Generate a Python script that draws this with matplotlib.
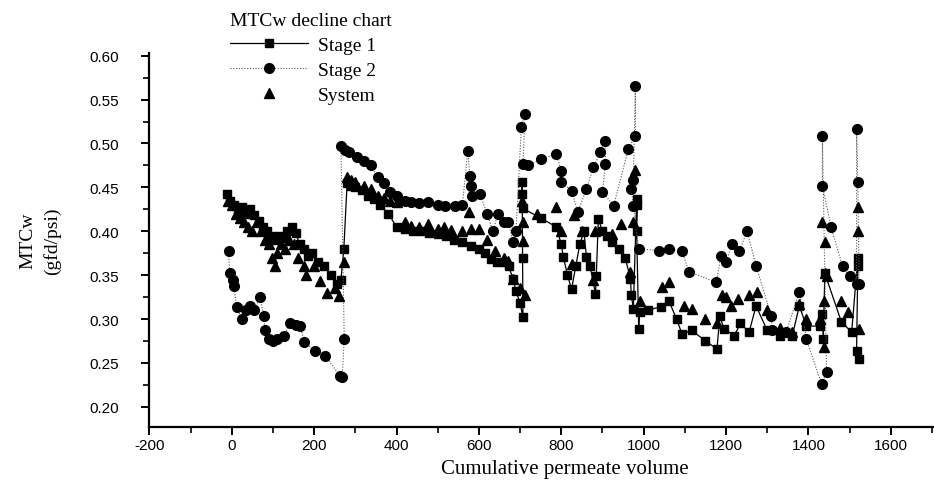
import matplotlib
matplotlib.use("Agg")
import matplotlib.pyplot as plt
from matplotlib.ticker import MultipleLocator

plt.rcParams["axes.unicode_minus"] = False

# Stage 1 (squares, solid line)
stage1_x = [-12, -5, 5, 15, 25, 35, 45, 55, 65, 75, 85, 95, 105, 115, 125, 135, 145,
            155, 165, 175, 185, 195, 210, 225, 240, 255, 265, 272,
            280, 290, 300, 315, 330, 345, 360, 380, 400, 420, 440, 460, 480, 500, 520,
            540, 560, 580, 600, 615, 630, 645, 660, 672, 683, 690, 700, 707,
            706, 705, 705, 707, 750, 788, 800, 805, 815, 825, 835, 845, 855, 861, 870,
            883, 885, 890, 900, 910, 922, 940, 955, 968, 970, 975, 983, 985, 983, 988,
            990, 1010, 1041, 1061, 1080, 1093, 1117, 1150, 1178, 1185, 1195, 1220,
            1235, 1256, 1273, 1300, 1330, 1361, 1378, 1395, 1427, 1434, 1436, 1440,
            1480, 1505, 1520, 1520, 1517, 1524]
stage1_y = [0.442, 0.435, 0.430, 0.425, 0.428, 0.420, 0.425, 0.418, 0.412, 0.405, 0.400,
            0.395, 0.390, 0.395, 0.392, 0.400, 0.405, 0.398, 0.385, 0.380, 0.372, 0.375,
            0.365, 0.360, 0.350, 0.340, 0.345, 0.380,
            0.455, 0.452, 0.450, 0.447, 0.440, 0.437, 0.430, 0.420, 0.405, 0.403, 0.400,
            0.400, 0.398, 0.397, 0.395, 0.390, 0.388, 0.383, 0.380, 0.375, 0.368, 0.365,
            0.365, 0.360, 0.346, 0.332, 0.318, 0.302,
            0.370, 0.456, 0.443, 0.426, 0.415, 0.405, 0.385, 0.371, 0.350, 0.334, 0.360,
            0.385, 0.400, 0.371, 0.360, 0.329, 0.349, 0.414, 0.400, 0.395, 0.388, 0.380,
            0.370, 0.346, 0.327, 0.312, 0.437, 0.430, 0.400, 0.289,
            0.308, 0.310, 0.314, 0.321, 0.300, 0.283, 0.287, 0.275, 0.266, 0.303, 0.289,
            0.281, 0.295, 0.285, 0.315, 0.287, 0.281, 0.281, 0.315, 0.292, 0.292, 0.306,
            0.277, 0.352, 0.297, 0.285, 0.369, 0.360, 0.264, 0.255]

# Stage 2 (circles, dotted line)
stage2_x = [-8, -5, 2, 5, 12, 24, 35, 44, 55, 68, 78, 80, 90, 100, 110, 127, 141, 155,
            166, 176, 202, 227, 263, 268, 273,
            265, 275, 285, 305, 320, 337, 354, 370, 385, 402, 420, 434, 455, 476, 500,
            517, 541, 560, 573, 578, 580, 582, 602, 620, 634, 646, 660, 671, 683, 690,
            703, 712, 707, 720, 750, 788, 800, 800, 825, 840, 861, 878, 895, 907, 907,
            900, 927, 963, 980, 980, 975, 970, 975, 988, 1037, 1061, 1093, 1110, 1176,
            1188, 1200, 1215, 1232, 1251, 1273, 1310, 1312, 1346, 1378, 1395, 1432,
            1444, 1434, 1434, 1455, 1483, 1500, 1517, 1517, 1520, 1523]
stage2_y = [0.378, 0.352, 0.345, 0.338, 0.314, 0.300, 0.310, 0.315, 0.310, 0.325, 0.304,
            0.287, 0.277, 0.275, 0.277, 0.281, 0.295, 0.293, 0.292, 0.274, 0.264, 0.258,
            0.235, 0.234, 0.277,
            0.497, 0.493, 0.490, 0.485, 0.480, 0.475, 0.462, 0.455, 0.445, 0.440, 0.435,
            0.433, 0.432, 0.433, 0.430, 0.429, 0.429, 0.430, 0.492, 0.463, 0.452, 0.440,
            0.443, 0.420, 0.400, 0.420, 0.411, 0.411, 0.388, 0.400, 0.519, 0.534, 0.477,
            0.475, 0.482, 0.488, 0.469, 0.456, 0.446, 0.422, 0.448, 0.473, 0.490, 0.503,
            0.477, 0.445, 0.429, 0.494, 0.509, 0.566, 0.458, 0.448, 0.429, 0.380, 0.378,
            0.380, 0.377, 0.354, 0.342, 0.372, 0.365, 0.386, 0.377, 0.400, 0.361, 0.303,
            0.287, 0.285, 0.331, 0.277, 0.226, 0.240, 0.509, 0.452, 0.405, 0.360, 0.349,
            0.340, 0.517, 0.456, 0.340]

# System (triangles)
system_x = [-10, 0, 10, 20, 30, 40, 50, 60, 70, 80, 90, 98, 105, 110, 120, 130, 140, 150,
            160, 175, 180, 200, 215, 230, 250, 261, 273,
            280, 290, 300, 320, 337, 355, 370, 385, 402, 420, 434, 455, 476, 500, 515,
            532, 560, 575, 580, 600, 620, 639, 660, 671, 683, 700, 712, 707, 707, 705,
            740, 788, 800, 825, 830, 850, 878, 883, 922, 945, 968, 975, 980, 990, 1044,
            1061, 1098, 1117, 1150, 1178, 1190, 1200, 1212, 1230, 1256, 1276, 1300, 1330,
            1361, 1378, 1395, 1427, 1434, 1440, 1440, 1445, 1437, 1437, 1480, 1495, 1520,
            1520, 1524]
system_y = [0.435, 0.430, 0.420, 0.415, 0.410, 0.405, 0.400, 0.410, 0.400, 0.390, 0.385,
            0.369, 0.360, 0.375, 0.385, 0.380, 0.390, 0.385, 0.370, 0.361, 0.350, 0.360,
            0.343, 0.330, 0.335, 0.326, 0.365,
            0.462, 0.458, 0.456, 0.452, 0.448, 0.440, 0.438, 0.435, 0.433, 0.410, 0.406,
            0.405, 0.408, 0.403, 0.405, 0.401, 0.400, 0.422, 0.403, 0.403, 0.390, 0.377,
            0.370, 0.366, 0.346, 0.335, 0.327, 0.389, 0.411, 0.435, 0.420, 0.428, 0.400,
            0.363, 0.418, 0.400, 0.344, 0.400, 0.397, 0.408, 0.354, 0.410, 0.470, 0.320,
            0.337, 0.342, 0.315, 0.312, 0.300, 0.295, 0.327, 0.325, 0.315, 0.323, 0.327,
            0.331, 0.310, 0.290, 0.285, 0.317, 0.300, 0.300, 0.411, 0.388, 0.352, 0.349,
            0.321, 0.268, 0.320, 0.308, 0.428, 0.400, 0.289]

fig = plt.figure(figsize=(9.34, 4.85), dpi=100)
ax = fig.add_axes([0.16, 0.1175, 0.84, 0.771])

ax.plot(stage1_x, stage1_y, color="black", lw=0.9, marker="s", ms=6,
        label="Stage 1")
ax.plot(stage2_x, stage2_y, color="0.35", lw=0.8, ls=(0, (1, 1.5)), marker="o", ms=7,
        mfc="black", mec="black", label="Stage 2")
ax.plot(system_x, system_y, color="black", lw=0, marker="^", ms=6.5, label="System")

ax.set_xlim(-200, 1705)
ax.set_ylim(0.177, 0.603)
ax.xaxis.set_major_locator(MultipleLocator(200))
ax.xaxis.set_minor_locator(MultipleLocator(100))
ax.yaxis.set_major_locator(MultipleLocator(0.05))
ax.yaxis.set_minor_locator(MultipleLocator(0.025))
ax.yaxis.set_major_formatter(plt.FormatStrFormatter("%.2f"))

for s in ("top", "right"):
    ax.spines[s].set_visible(False)
for s in ("left", "bottom"):
    ax.spines[s].set_linewidth(1.6)
ax.tick_params(which="major", length=6, width=1.4, labelsize=11)
ax.tick_params(axis="y", which="major", pad=16)
ax.tick_params(axis="x", which="major", pad=2)
ax.tick_params(which="minor", length=4, width=1.2)
for lab in ax.get_xticklabels() + ax.get_yticklabels():
    lab.set_family("Liberation Sans")

serif = "Liberation Serif"
ax.set_xlabel("Cumulative permeate volume", family=serif, fontsize=15, labelpad=2)
ax.xaxis.set_label_coords(0.53, -0.085)
ax.set_ylabel("MTCw\n(gfd/psi)", family=serif, fontsize=14, labelpad=20, linespacing=1.5)

leg = fig.legend(loc="upper left", bbox_to_anchor=(0.238, 0.99), frameon=False,
                 title="MTCw decline chart", prop={"family": serif, "size": 14},
                 handlelength=4.0, numpoints=1, labelspacing=0.38,
                 borderaxespad=0, handletextpad=0.5)
leg.get_title().set_family(serif)
leg.get_title().set_fontsize(14)
leg._legend_box.align = "left"

fig.savefig("out.png", dpi=100)
